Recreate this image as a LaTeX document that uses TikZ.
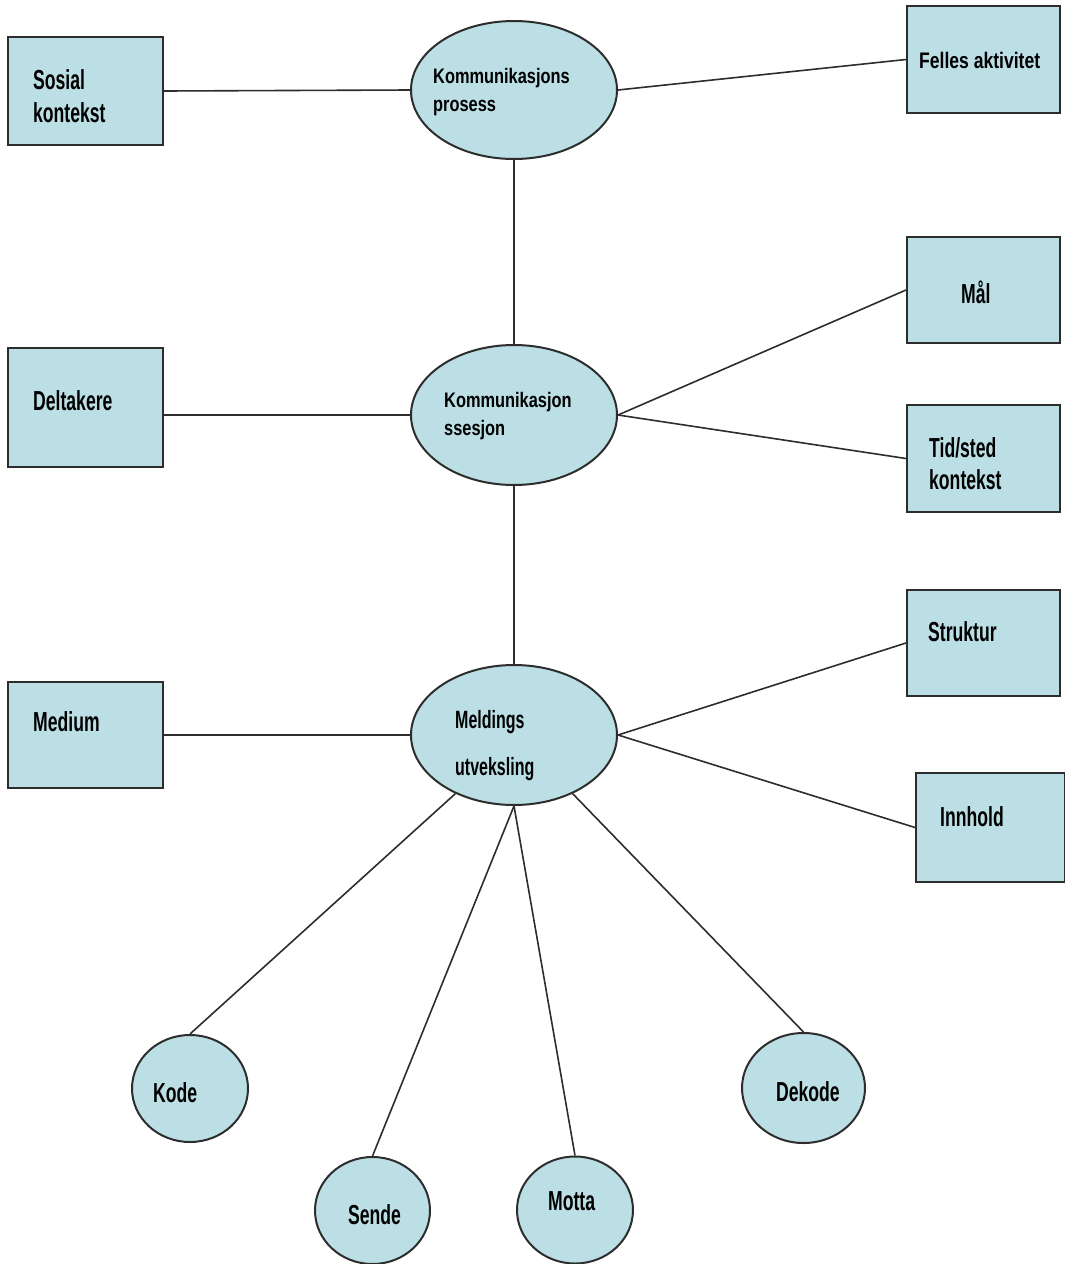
\documentclass[tikz,border=0pt]{standalone}
\usepackage{fontspec}
\setmainfont{Liberation Sans}
\newfontfamily\narrowface[FakeStretch=0.64]{Liberation Sans}
\newfontfamily\semiface[FakeStretch=0.78]{Liberation Sans}
\usetikzlibrary{shapes.geometric}
\definecolor{shapefill}{RGB}{187,223,228}
\definecolor{edgegray}{RGB}{45,45,45}
\begin{document}
\begin{tikzpicture}[x=1pt,y=-1pt,
  box/.style={draw=edgegray,line width=2pt,fill=shapefill,inner sep=0pt},
  oval/.style={ellipse,draw=edgegray,line width=2pt,fill=shapefill,inner sep=0pt},
  link/.style={draw=edgegray,line width=1.6pt},
  lbl/.style={anchor=base west,inner sep=0pt,font=\narrowface\bfseries\fontsize{27.5}{31}\selectfont},
  lbm/.style={anchor=base west,inner sep=0pt,font=\narrowface\bfseries\fontsize{25}{29}\selectfont},
  lbs/.style={anchor=base west,inner sep=0pt,font=\semiface\bfseries\fontsize{21}{25}\selectfont}]
\useasboundingbox (0,0) rectangle (1065,1264);

% rectangles
\node[box,minimum width=155,minimum height=108] (sosial) at (85.5,91) {};
\node[box,minimum width=153,minimum height=107] (felles) at (983.5,59.5) {};
\node[box,minimum width=155,minimum height=119] (delta) at (85.5,407.5) {};
\node[box,minimum width=153,minimum height=106] (maal) at (983.5,290) {};
\node[box,minimum width=153,minimum height=107] (tid) at (983.5,458.5) {};
\node[box,minimum width=155,minimum height=106] (medium) at (85.5,735) {};
\node[box,minimum width=153,minimum height=106] (struktur) at (983.5,643) {};
\node[box,minimum width=149,minimum height=109] (innhold) at (990.5,827.5) {};

% ellipses
\node[oval,minimum width=206,minimum height=138] (prosess) at (514,90) {};
\node[oval,minimum width=206,minimum height=140] (sesjon) at (514,415) {};
\node[oval,minimum width=206,minimum height=140] (melding) at (514,735) {};
\node[oval,minimum width=116,minimum height=107] (kode) at (190,1088.5) {};
\node[oval,minimum width=115,minimum height=107] (sende) at (372.5,1210.5) {};
\node[oval,minimum width=116,minimum height=107] (motta) at (575,1210) {};
\node[oval,minimum width=123,minimum height=110] (dekode) at (803.5,1088) {};

% connectors
\draw[link] (sosial.east) -- (prosess.west);
\draw[link] (prosess.east) -- (felles.west);
\draw[link] (prosess.south) -- (sesjon.north);
\draw[link] (delta.east |- sesjon.west) -- (sesjon.west);
\draw[link] (sesjon.east) -- (maal.west);
\draw[link] (sesjon.east) -- (tid.west);
\draw[link] (sesjon.south) -- (melding.north);
\draw[link] (medium.east) -- (melding.west);
\draw[link] (melding.east) -- (struktur.west);
\draw[link] (melding.east) -- (innhold.west);
\draw[link] (melding.-135) -- (kode.north);
\draw[link] (melding.south) -- (sende.north);
\draw[link] (melding.south) -- (motta.north);
\draw[link] (melding.-45) -- (dekode.north);

% labels
\node[lbl] (tSosial) at (33,89) {Sosial};
\node[lbl] (tKontekst) at (33,122) {kontekst};
\node[lbs] (tKomm) at (433,83) {Kommunikasjons};
\node[lbs] (tProsess) at (433,111) {prosess};
\node[lbs,font=\semiface\bfseries\fontsize{22.5}{26}\selectfont] (tFelles) at (919,68) {Felles aktivitet};
\node[lbl] (tDelta) at (33,410) {Deltakere};
\node[lbs] (tKomm2) at (444,407) {Kommunikasjon};
\node[lbs] (tSesjon) at (444,435) {ssesjon};
\node[lbl] (tMaal) at (961,303) {Mål};
\node[lbl] (tTid) at (929,457) {Tid/sted};
\node[lbl] (tTidK) at (929,489) {kontekst};
\node[lbl] (tStruktur) at (928,641) {Struktur};
\node[lbl] (tMedium) at (33,731) {Medium};
\node[lbm] (tMeld) at (455,728) {Meldings};
\node[lbm] (tUtv) at (455,775) {utveksling};
\node[lbl] (tInnhold) at (940,826) {Innhold};
\node[lbl] (tKode) at (153,1102) {Kode};
\node[lbl] (tSende) at (348,1224) {Sende};
\node[lbl] (tMotta) at (548,1210) {Motta};
\node[lbl] (tDekode) at (776,1101) {Dekode};
\end{tikzpicture}
\end{document}
